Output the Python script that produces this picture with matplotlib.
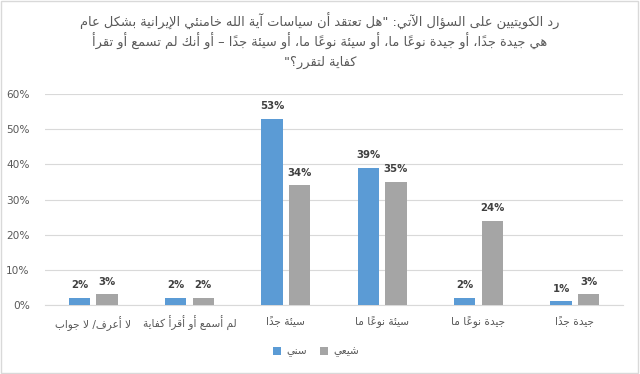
import matplotlib
matplotlib.use("Agg")
import matplotlib.pyplot as plt
from matplotlib.patches import Rectangle, Patch
from matplotlib.ticker import FuncFormatter

# ---- data -----------------------------------------------------------------
categories = [
    "لا أعرف/ لا جواب",
    "لم أسمع أو أقرأ كفاية",
    "سيئة جداً",
    "سيئة نوعاً ما",
    "جيدة نوعاً ما",
    "جيدة جداً",
]
series_names = ["سني", "شيعي"]
sunni = [2, 2, 53, 39, 2, 1]
shia = [3, 2, 34, 35, 24, 3]
title_lines = [
    'رد الكويتيين على السؤال الآتي: "هل تعتقد أن سياسات آية الله خامنئي الإيرانية بشكل عام',
    "هي جيدة جداً، أو جيدة نوعاً ما، أو سيئة نوعاً ما، أو سيئة جداً – أو أنك لم تسمع أو تقرأ",
    'كفاية لتقرر؟"',
]
y_ticks = [0, 10, 20, 30, 40, 50, 60]

# ---- minimal Arabic shaping (presentation forms + visual order) -----------
_FORMS = {
    'ء': (0xFE80, 1), 'آ': (0xFE81, 2), 'أ': (0xFE83, 2), 'ؤ': (0xFE85, 2),
    'إ': (0xFE87, 2), 'ئ': (0xFE89, 4), 'ا': (0xFE8D, 2), 'ب': (0xFE8F, 4),
    'ة': (0xFE93, 2), 'ت': (0xFE95, 4), 'ث': (0xFE99, 4), 'ج': (0xFE9D, 4),
    'ح': (0xFEA1, 4), 'خ': (0xFEA5, 4), 'د': (0xFEA9, 2), 'ذ': (0xFEAB, 2),
    'ر': (0xFEAD, 2), 'ز': (0xFEAF, 2), 'س': (0xFEB1, 4), 'ش': (0xFEB5, 4),
    'ص': (0xFEB9, 4), 'ض': (0xFEBD, 4), 'ط': (0xFEC1, 4), 'ظ': (0xFEC5, 4),
    'ع': (0xFEC9, 4), 'غ': (0xFECD, 4), 'ف': (0xFED1, 4), 'ق': (0xFED5, 4),
    'ك': (0xFED9, 4), 'ل': (0xFEDD, 4), 'م': (0xFEE1, 4), 'ن': (0xFEE5, 4),
    'ه': (0xFEE9, 4), 'و': (0xFEED, 2), 'ى': (0xFEEF, 2), 'ي': (0xFEF1, 4),
}
_LAM_ALEF = {'آ': 0xFEF5, 'أ': 0xFEF7, 'إ': 0xFEF9, 'ا': 0xFEFB}


def _is_mark(ch):
    return 0x064B <= ord(ch) <= 0x065F or ord(ch) == 0x0670


def shape_ar(text):
    # group into clusters: base character followed by its combining marks
    clusters = []
    for ch in text:
        if _is_mark(ch) and clusters:
            clusters[-1][1] += ch
        else:
            clusters.append([ch, ""])
    # merge lam + alef into the ligature
    merged = []
    i = 0
    while i < len(clusters):
        b, m = clusters[i]
        if b == 'ل' and not m and i + 1 < len(clusters) and clusters[i + 1][0] in _LAM_ALEF:
            merged.append(["LA" + clusters[i + 1][0], clusters[i + 1][1]])
            i += 2
        else:
            merged.append([b, m])
            i += 1

    def nforms(b):
        if b.startswith("LA"):
            return 2
        return _FORMS.get(b, (0, 0))[1]

    out = []
    for k, (b, m) in enumerate(merged):
        n = nforms(b)
        prev_n = nforms(merged[k - 1][0]) if k > 0 else 0
        next_n = nforms(merged[k + 1][0]) if k + 1 < len(merged) else 0
        jp = n >= 2 and prev_n == 4
        jn = n == 4 and next_n >= 2
        if b.startswith("LA"):
            g = chr(_LAM_ALEF[b[2]] + (1 if jp else 0))
        elif n == 0:
            g = b
        elif n == 1:
            g = chr(_FORMS[b][0])
        else:
            base = _FORMS[b][0]
            if jp and jn:
                off = 3
            elif jp:
                off = 1
            elif jn:
                off = 2
            else:
                off = 0
            g = chr(base + off)
        out.append(g + m)
    return "".join(reversed(out))


# ---- figure ---------------------------------------------------------------
TEXT_GRAY = "#595959"
LABEL_GRAY = "#404040"
GRID = "#d9d9d9"
BLUE = "#5b9bd5"
GREY = "#a5a5a5"

fig = plt.figure(figsize=(6.4, 3.74), dpi=100)
fig.patches.append(Rectangle((0.002, 0.003), 0.995, 0.993, transform=fig.transFigure,
                             fill=False, edgecolor=GRID, linewidth=1.0))

ax = fig.add_axes([45 / 640, 69 / 374, 578 / 640, 211 / 374])
x = list(range(len(categories)))
w = 0.223
off = 0.143
b1 = ax.bar([i - off for i in x], sunni, width=w, color=BLUE, zorder=3)
b2 = ax.bar([i + off for i in x], shia, width=w, color=GREY, zorder=3)

for bars, vals in ((b1, sunni), (b2, shia)):
    for rect, v in zip(bars, vals):
        ax.annotate(f"{v}%", (rect.get_x() + rect.get_width() / 2, v),
                    xytext=(0, 5.5), textcoords="offset points", ha="center", va="bottom",
                    fontsize=7.3, fontweight="bold", color=LABEL_GRAY)

ax.set_xlim(-0.5, len(categories) - 0.5)
ax.set_ylim(0, 60)
ax.set_yticks(y_ticks)
ax.yaxis.set_major_formatter(FuncFormatter(lambda v, p: f"{v:.0f}%"))
ax.set_xticks(x)
ax.set_xticklabels([shape_ar(c) for c in categories])
ax.tick_params(axis="y", length=0, pad=11, labelsize=7.6, labelcolor=TEXT_GRAY)
ax.tick_params(axis="x", length=0, pad=8, labelsize=7.6, labelcolor=TEXT_GRAY)
ax.grid(axis="y", color=GRID, linewidth=0.8, zorder=0)
for s in ("left", "right", "top"):
    ax.spines[s].set_visible(False)
ax.spines["bottom"].set_color(GRID)
ax.spines["bottom"].set_linewidth(0.8)

for k, line in enumerate(title_lines):
    fig.text(0.5, 1 - (21 + 20.5 * k) / 374, shape_ar(line), ha="center", va="center",
             fontsize=9.4, color=TEXT_GRAY)

handles = [Patch(facecolor=BLUE), Patch(facecolor=GREY)]
fig.legend(handles, [shape_ar(s) for s in series_names], loc="center",
           bbox_to_anchor=(316 / 640, 1 - 352 / 374), ncol=2, frameon=False,
           fontsize=7.6, labelcolor=TEXT_GRAY, handlelength=0.7, handleheight=0.7,
           handletextpad=0.5, columnspacing=1.3)

fig.savefig("out.png", dpi=100)
